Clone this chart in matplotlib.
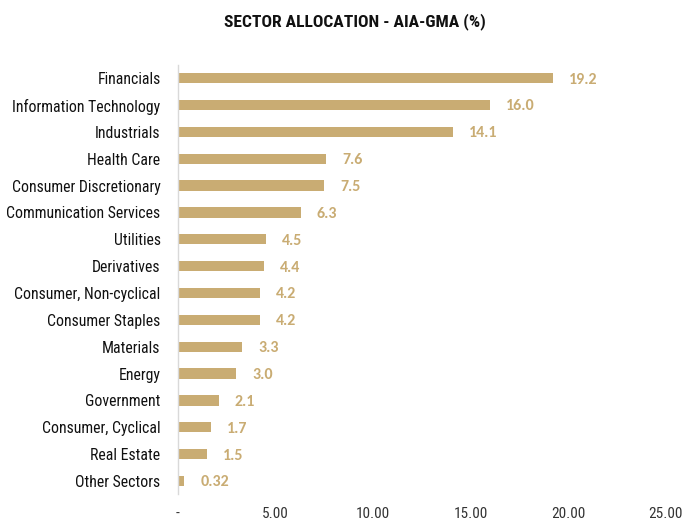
import matplotlib
matplotlib.use("Agg")
import matplotlib.pyplot as plt

categories = ["Financials", "Information Technology", "Industrials", "Health Care",
              "Consumer Discretionary", "Communication Services", "Utilities", "Derivatives",
              "Consumer, Non-cyclical", "Consumer Staples", "Materials", "Energy",
              "Government", "Consumer, Cyclical", "Real Estate", "Other Sectors"]
values = [19.2, 16.0, 14.1, 7.6, 7.5, 6.3, 4.5, 4.4, 4.2, 4.2, 3.3, 3.0, 2.1, 1.7, 1.5, 0.32]
value_labels = ["19.2", "16.0", "14.1", "7.6", "7.5", "6.3", "4.5", "4.4", "4.2", "4.2",
                "3.3", "3.0", "2.1", "1.7", "1.5", "0.32"]
xticks = [0, 5, 10, 15, 20, 25]
xtick_labels = ["-", "5.00", "10.00", "15.00", "20.00", "25.00"]
title = "SECTOR ALLOCATION - AIA-GMA (%)"

narrow = ["Roboto Condensed", "DejaVu Sans"]
BAR = "#C9AC73"
fig = plt.figure(figsize=(6.87, 5.24), dpi=100)
ax = fig.add_axes([0.259, 0.0565, 0.71, 0.820])

y = list(range(len(categories)))
ax.barh(y, values, height=0.38, color=BAR)
for yi, v, lab in zip(y, values, value_labels):
    ax.annotate(lab, (v, yi), xytext=(11.5, -1), textcoords="offset points",
                va="center", ha="left", color=BAR, fontsize=11.5,
                fontweight="bold", family=["Carlito", "DejaVu Sans"])

ax.set_ylim(len(categories) - 0.5, -0.5)
ax.set_xlim(0, 25)
ax.set_yticks(y)
ax.set_yticklabels(categories, family=narrow, fontsize=11.3, color="#111111")
ax.set_xticks(xticks)
ax.set_xticklabels(xtick_labels, family=narrow, fontsize=11, color="#333333")
ax.tick_params(axis="both", length=0)
ax.tick_params(axis="y", pad=12.5)
ax.tick_params(axis="x", pad=9)
for s in ["top", "right", "bottom"]:
    ax.spines[s].set_visible(False)
ax.spines["left"].set_color("#D9D9D9")
ax.spines["left"].set_linewidth(1.0)

fig.text(0.516, 0.958, title, ha="center", va="center", family=narrow,
         fontweight="bold", fontsize=12.6, color="#111111")

fig.savefig("out.png", dpi=100)
